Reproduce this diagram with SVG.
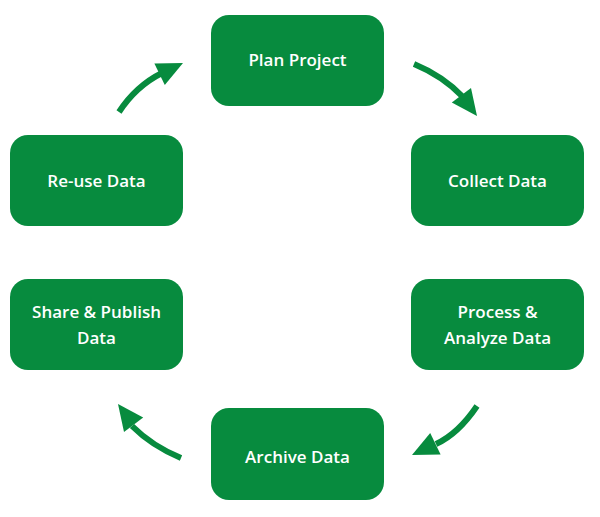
<svg xmlns="http://www.w3.org/2000/svg" width="600" height="517" viewBox="0 0 600 517">
<style>
.n rect{fill:#078b3e}
.n text{fill:#fff;font-family:"Open Sans","Liberation Sans",sans-serif;font-weight:600;font-size:17px;text-anchor:middle}
.c path{fill:none;stroke:#078b3e;stroke-width:6;stroke-linecap:butt}
.c polygon{fill:#078b3e}
</style>
<rect width="600" height="517" fill="#fff"/>
<g id="plan" class="n"><rect x="211" y="15" width="173" height="91" rx="18"/><text x="297.5" y="66">Plan Project</text></g>
<g id="collect" class="n"><rect x="411" y="135" width="173" height="91" rx="18"/><text x="497.5" y="187">Collect Data</text></g>
<g id="reuse" class="n"><rect x="10" y="135" width="173" height="91" rx="18"/><text x="96.5" y="187">Re-use Data</text></g>
<g id="share" class="n"><rect x="10" y="279" width="173" height="91" rx="18"/><text x="96.5" y="318">Share &amp; Publish</text><text x="96.5" y="344">Data</text></g>
<g id="process" class="n"><rect x="411" y="279" width="173" height="91" rx="18"/><text x="497.5" y="318">Process &amp;</text><text x="497.5" y="344">Analyze Data</text></g>
<g id="archive" class="n"><rect x="211" y="408" width="173" height="92" rx="18"/><text x="297.5" y="463">Archive Data</text></g>
<g id="connectors" class="c">
<path d="M119,112 Q136,86 162,73"/><polygon points="183,63 164.8,85 154.4,63.4"/>
<path d="M414,64 Q443,76 463,97"/><polygon points="477,116 471,88 451.8,102.4"/>
<path d="M477,406 Q458,434 436,444"/><polygon points="412,455 440.6,454.6 430.2,433"/>
<path d="M181,458 Q152,446 132,426"/><polygon points="118,404 143.2,417.6 124,432"/>
</g>
</svg>
